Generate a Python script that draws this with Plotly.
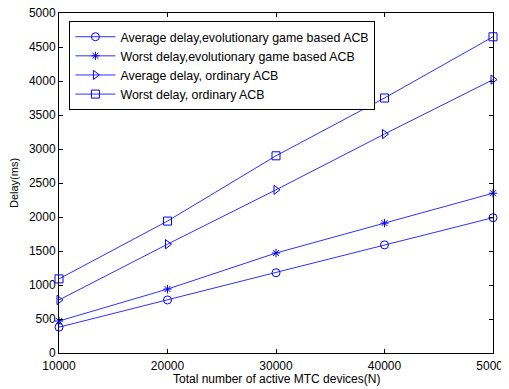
import plotly.graph_objects as go

x_vals = [10000, 20000, 30000, 40000, 50000]
x_labels = ["10000", "20000", "30000", "40000", "50000"]
y_ticks = [0, 500, 1000, 1500, 2000, 2500, 3000, 3500, 4000, 4500, 5000]
avg_evo = [380, 780, 1180, 1590, 1990]
worst_evo = [470, 940, 1470, 1910, 2350]
avg_ord = [780, 1600, 2400, 3220, 4020]
worst_ord = [1090, 1940, 2900, 3750, 4650]

names = [
    "Average delay,evolutionary game based ACB",
    "Worst delay,evolutionary game based ACB",
    "Average delay, ordinary ACB",
    "Worst delay, ordinary ACB",
]
series = [avg_evo, worst_evo, avg_ord, worst_ord]
symbols = ["circle-open", "asterisk-open", "triangle-right-open", "square-open"]
sizes = [8, 7, 8, 8]

FONT = "Arial, Liberation Sans, sans-serif"

fig = go.Figure()
for nm, ys, sym, sz in zip(names, series, symbols, sizes):
    fig.add_trace(go.Scatter(
        x=x_vals, y=ys, name=nm, mode="lines+markers",
        line=dict(color="#3030ff", width=1),
        marker=dict(symbol=sym, size=sz, color="#0000ff", line=dict(color="#0000ff", width=1)),
        cliponaxis=False,
    ))

axis_common = dict(
    showgrid=False, zeroline=False, showline=True, linecolor="black", linewidth=1,
    mirror="ticks", ticks="inside", ticklen=4, tickcolor="black", automargin=False,
    ticklabeloverflow="allow",
    tickfont=dict(family=FONT, size=12, color="black"),
)
fig.update_xaxes(range=[10000, 50000], tickvals=x_vals, ticktext=x_labels,
                 ticklabelstandoff=2, **axis_common)
fig.update_yaxes(range=[0, 5000], tickvals=y_ticks, ticktext=[str(v) for v in y_ticks],
                 title=dict(text="Delay(ms)", standoff=15,
                            font=dict(family=FONT, size=11, color="black")),
                 **axis_common)

fig.add_annotation(text="Total number of active MTC devices(N)", xref="paper", yref="paper",
                   x=0.5, y=0, xanchor="center", yanchor="middle", yshift=-26,
                   showarrow=False, font=dict(family=FONT, size=12, color="black"))

fig.update_layout(
    width=509, height=389,
    margin=dict(l=51, r=24, t=5, b=44),
    plot_bgcolor="white", paper_bgcolor="white",
    legend=dict(x=0.024, y=0.976, xanchor="left", yanchor="top",
                bordercolor="black", borderwidth=1, bgcolor="white",
                font=dict(family=FONT, size=12.4, color="black"),
                tracegroupgap=0, itemwidth=40),
)
fig.write_html("out.html")
